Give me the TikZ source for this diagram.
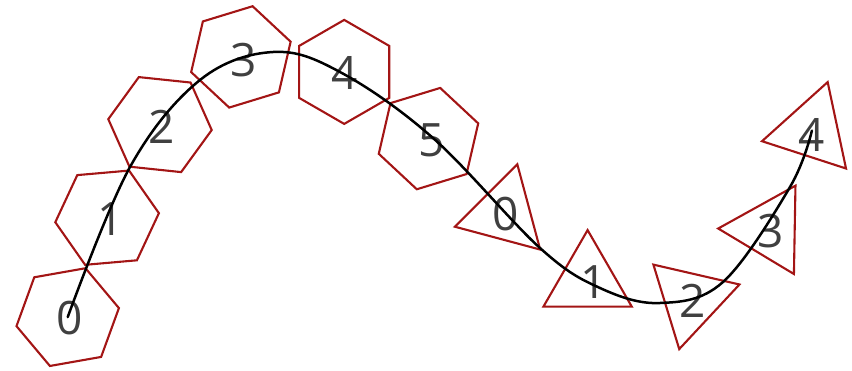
\documentclass[tikz,border=0pt]{standalone}
\usepackage{fontspec}
\setmainfont{Open Sans}
\usetikzlibrary{shapes.geometric}
\definecolor{edgered}{HTML}{A31515}
\definecolor{numgray}{HTML}{404040}
\tikzset{
  hexa/.style={regular polygon, regular polygon sides=6, draw=edgered, line width=2.1pt,
    minimum size=104pt, inner sep=0pt, outer sep=0pt},
  trio/.style={regular polygon, regular polygon sides=3, draw=edgered, line width=2.1pt,
    minimum size=102pt, inner sep=0pt, outer sep=0pt},
  num/.style={text=numgray, font=\fontsize{46}{50}\selectfont, inner sep=0pt},
  curve/.style={draw=black, line width=2.5pt, line cap=round}
}
\begin{document}
\begin{tikzpicture}[x=1pt, y=-1pt]
\useasboundingbox (0,0) rectangle (852,370);
% hexagons
\node[hexa, shape border rotate=10] (h0) at (67.7,317.1) {};
\node[hexa, shape border rotate=5] (h1) at (107.1,217.7) {};
\node[hexa, shape border rotate=-6] (h2) at (160,124.6) {};
\node[hexa, shape border rotate=17] (h3) at (240.9,56.9) {};
\node[hexa, shape border rotate=30] (h4) at (344.2,71.9) {};
\node[hexa, shape border rotate=17] (h5) at (428.5,138.6) {};
% triangles
\node[trio, shape border rotate=-15] (t0) at (504.1,213.5) {};
\node[trio, shape border rotate=0] (t1) at (587.6,281.1) {};
\node[trio, shape border rotate=47] (t2) at (690.7,299.4) {};
\node[trio, shape border rotate=-31] (t3) at (769.2,229.4) {};
\node[trio, shape border rotate=-18] (t4) at (811.9,130.6) {};
% numbers
\node[num] at ([shift={(2,1)}]h0) {0};
\node[num] at ([shift={(4,1)}]h1) {1};
\node[num] at ([shift={(2,2)}]h2) {2};
\node[num] at ([shift={(3,3)}]h3) {3};
\node[num] at ([shift={(0,1)}]h4) {4};
\node[num] at ([shift={(3,2)}]h5) {5};
\node[num] at ([shift={(2,1)}]t0) {0};
\node[num] at ([shift={(6,1)}]t1) {1};
\node[num] at ([shift={(2,1)}]t2) {2};
\node[num] at ([shift={(1,2)}]t3) {3};
\node[num] at ([shift={(0,4)}]t4) {4};
% curve
\draw[curve] plot[smooth, tension=0.6] coordinates {(h0.center) (130,167) (200,80) (273,52) (340,72) (433,138) (540,248) (600,288) (660,303) (723,282) (790,187) (t4.center)};
\end{tikzpicture}
\end{document}
